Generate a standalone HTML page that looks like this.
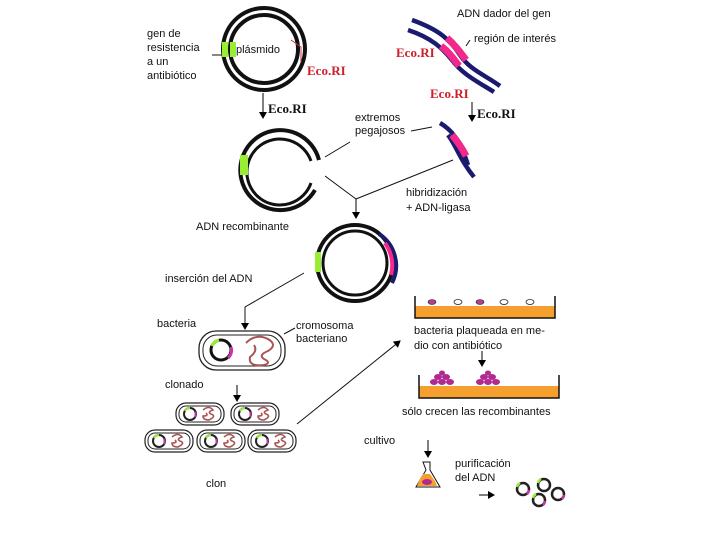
<!DOCTYPE html>
<html><head><meta charset="utf-8"><style>
html,body{margin:0;padding:0;background:#fff;}
svg{display:block;}
text{font-family:"Liberation Sans",sans-serif;font-size:11px;fill:#111;}
.r{font-family:"Liberation Serif",serif;font-weight:bold;font-size:13px;fill:#cc1f2a;}
.k{font-family:"Liberation Serif",serif;font-weight:bold;font-size:13px;fill:#111;}
</style></head><body>
<svg width="720" height="540" viewBox="0 0 720 540" xmlns="http://www.w3.org/2000/svg">
<defs>
<marker id="a" markerWidth="8" markerHeight="8" refX="6" refY="4" orient="auto"><path d="M0,0 L7,4 L0,8 z" fill="#000"/></marker>
<g id="cell">
<rect x="-24" y="-11" width="48" height="22" rx="10" fill="#fff" stroke="#222" stroke-width="1.2"/>
<rect x="-21" y="-8" width="42" height="16" rx="7" fill="none" stroke="#222" stroke-width="1"/>
<circle cx="-10" cy="0" r="6" fill="none" stroke="#222" stroke-width="2"/>
<path d="M-15,-3 A6,6 0 0 1 -10,-6" stroke="#9e3" stroke-width="2" fill="none"/>
<path d="M-5,-2 A6,6 0 0 1 -5,3" stroke="#c3a" stroke-width="2" fill="none"/>
<path d="M3,-4 q6,-5 10,0 q-6,2 -2,4 q6,2 -2,6 q-6,0 -6,-4 q6,0 3,-3" fill="none" stroke="#a55" stroke-width="1.6"/>
</g>
</defs>

<!-- plasmid -->
<circle cx="264" cy="49" r="41" fill="none" stroke="#111" stroke-width="4"/>
<circle cx="264" cy="49" r="34" fill="none" stroke="#111" stroke-width="4"/>
<rect x="222" y="42" width="6" height="15" fill="#9e3"/>
<rect x="230" y="42" width="6" height="15" fill="#9e3"/>
<path d="M291,40 L301,47 L301,62" fill="none" stroke="#c33" stroke-width="1"/>
<text x="147" y="37">gen de</text><text x="147" y="51">resistencia</text><text x="147" y="65">a un</text><text x="147" y="79">antibiótico</text>
<line x1="212" y1="55" x2="222" y2="55" stroke="#111"/>
<text x="236" y="53">plásmido</text>
<text x="307" y="75" class="r">Eco.RI</text>

<!-- donor DNA -->
<path d="M412,20 C440,30 450,40 460,55 C470,70 485,75 500,86" fill="none" stroke="#1a1a6e" stroke-width="4.5"/>
<path d="M408,30 C432,38 442,48 452,60 C462,74 478,82 494,92" fill="none" stroke="#1a1a6e" stroke-width="4.5"/>
<path d="M447,38 C455,45 460,52 466,60" stroke="#f2288c" stroke-width="7" fill="none"/>
<path d="M441,46 C449,52 453,58 459,66" stroke="#f2288c" stroke-width="7" fill="none"/>
<text x="457" y="17">ADN dador del gen</text>
<text x="474" y="42">región de interés</text>
<line x1="470" y1="40" x2="466" y2="46" stroke="#111"/>
<text x="396" y="57" class="r">Eco.RI</text>
<text x="430" y="98" class="r">Eco.RI</text>

<!-- arrows EcoRI -->
<line x1="263" y1="93" x2="263" y2="118" stroke="#000" marker-end="url(#a)"/>
<text x="268" y="113" class="k">Eco.RI</text>
<line x1="472" y1="102" x2="472" y2="121" stroke="#000" marker-end="url(#a)"/>
<text x="477" y="118" class="k">Eco.RI</text>

<!-- open plasmid -->
<path d="M319,160 A40,40 0 1 0 315,190" fill="none" stroke="#111" stroke-width="4"/>
<path d="M311,161 A33,33 0 1 0 311,183" fill="none" stroke="#111" stroke-width="3"/>
<rect x="240" y="155" width="8" height="20" fill="#9e3"/>
<text x="355" y="121">extremos</text><text x="355" y="134">pegajosos</text>
<line x1="325" y1="157" x2="350" y2="142" stroke="#111"/>
<line x1="411" y1="131" x2="432" y2="127" stroke="#111"/>
<!-- fragment -->
<path d="M440,123 C452,130 460,140 468,165" fill="none" stroke="#1a1a6e" stroke-width="4.5"/>
<path d="M448,135 C456,145 460,160 474,177" fill="none" stroke="#1a1a6e" stroke-width="4.5"/>
<path d="M452,135 C458,142 462,148 466,156" stroke="#f2288c" stroke-width="7" fill="none"/>
<line x1="325" y1="176" x2="356" y2="199" stroke="#111"/>
<line x1="453" y1="160" x2="356" y2="199" stroke="#111"/>
<line x1="356" y1="199" x2="356" y2="218" stroke="#000" marker-end="url(#a)"/>
<text x="406" y="196">hibridización</text><text x="406" y="211">+ ADN-ligasa</text>

<!-- recombinant -->
<text x="196" y="230">ADN recombinante</text>
<circle cx="355" cy="263" r="38" fill="none" stroke="#111" stroke-width="4"/>
<circle cx="355" cy="263" r="32" fill="none" stroke="#111" stroke-width="3"/>
<rect x="315" y="252" width="6" height="20" fill="#9e3"/>
<path d="M379,234 A38,38 0 0 1 392,283" stroke="#1a1a6e" stroke-width="4" fill="none"/>
<path d="M385,243 A38,38 0 0 1 391,275" stroke="#f2288c" stroke-width="4" fill="none"/>
<text x="165" y="282">inserción del ADN</text>
<polyline points="304,273 245,307 245,329" fill="none" stroke="#111" marker-end="url(#a)"/>

<!-- bacterium -->
<text x="157" y="327">bacteria</text>
<rect x="199" y="331" width="86" height="39" rx="17" fill="#fff" stroke="#222" stroke-width="1.3"/>
<rect x="203" y="335" width="78" height="31" rx="14" fill="none" stroke="#222" stroke-width="1"/>
<circle cx="221" cy="350" r="10" fill="none" stroke="#111" stroke-width="3"/>
<path d="M212,346 A10,10 0 0 1 219,340" stroke="#9e3" stroke-width="3" fill="none"/>
<path d="M231,347 A10,10 0 0 1 228,358" stroke="#c3a" stroke-width="3" fill="none"/>
<path d="M246,343 q10,-10 22,-4 q10,6 0,12 q-10,4 -4,8 q8,4 0,6 q-16,2 -14,-8 q8,-6 4,-12" fill="none" stroke="#a55" stroke-width="2"/>
<text x="296" y="329">cromosoma</text><text x="296" y="342">bacteriano</text>
<line x1="284" y1="334" x2="295" y2="328" stroke="#111"/>

<text x="165" y="388">clonado</text>
<line x1="237" y1="385" x2="237" y2="401" stroke="#000" marker-end="url(#a)"/>
<use href="#cell" x="200" y="414"/>
<use href="#cell" x="255" y="414"/>
<use href="#cell" x="169" y="441"/>
<use href="#cell" x="221" y="441"/>
<use href="#cell" x="272" y="441"/>
<text x="206" y="487">clon</text>
<line x1="297" y1="424" x2="400" y2="341" stroke="#111" marker-end="url(#a)"/>

<!-- dishes -->
<rect x="415" y="306" width="140" height="12" fill="#f5a02e"/>
<polyline points="415,296 415,318 555,318 555,296" fill="none" stroke="#111" stroke-width="1.5"/>
<ellipse cx="432" cy="302" rx="4" ry="2.5" fill="#b04090" stroke="#222" stroke-width=".6"/>
<ellipse cx="458" cy="302" rx="4" ry="2.5" fill="#fff" stroke="#222" stroke-width=".8"/>
<ellipse cx="480" cy="302" rx="4" ry="2.5" fill="#b04090" stroke="#222" stroke-width=".6"/>
<ellipse cx="504" cy="302" rx="4" ry="2.5" fill="#fff" stroke="#222" stroke-width=".8"/>
<ellipse cx="530" cy="302" rx="4" ry="2.5" fill="#fff" stroke="#222" stroke-width=".8"/>
<text x="414" y="334">bacteria plaqueada en me-</text><text x="414" y="349">dio con antibiótico</text>
<line x1="482" y1="351" x2="482" y2="366" stroke="#000" marker-end="url(#a)"/>
<rect x="419" y="386" width="140" height="12" fill="#f5a02e"/>
<polyline points="419,375 419,398 559,398 559,375" fill="none" stroke="#111" stroke-width="1.5"/>
<g fill="#b02a90">
<ellipse cx="434" cy="382" rx="4" ry="3"/><ellipse cx="442" cy="382" rx="4" ry="3"/><ellipse cx="450" cy="382" rx="4" ry="3"/>
<ellipse cx="438" cy="377" rx="4" ry="3"/><ellipse cx="446" cy="377" rx="4" ry="3"/><ellipse cx="442" cy="373" rx="3" ry="2.5"/>
<ellipse cx="480" cy="382" rx="4" ry="3"/><ellipse cx="488" cy="382" rx="4" ry="3"/><ellipse cx="496" cy="382" rx="4" ry="3"/>
<ellipse cx="484" cy="377" rx="4" ry="3"/><ellipse cx="492" cy="377" rx="4" ry="3"/><ellipse cx="488" cy="373" rx="3" ry="2.5"/>
</g>
<text x="402" y="415">sólo crecen las recombinantes</text>

<text x="364" y="444">cultivo</text>
<line x1="428" y1="440" x2="428" y2="457" stroke="#000" marker-end="url(#a)"/>
<path d="M423,462 h7 v8 l10,17 h-24 l10,-17 z" fill="#fff" stroke="#111"/>
<path d="M419,481 l4,-7 h7 l5,7 l2,5 h-20 z" fill="#f5a02e"/>
<ellipse cx="427" cy="482" rx="5" ry="3" fill="#b02a90"/>
<text x="455" y="467">purificación</text><text x="455" y="481">del ADN</text>
<line x1="479" y1="495" x2="494" y2="495" stroke="#000" marker-end="url(#a)"/>
<g fill="none" stroke-width="2.5">
<circle cx="523" cy="489" r="6" stroke="#222"/><circle cx="544" cy="485" r="6" stroke="#222"/>
<circle cx="558" cy="494" r="6" stroke="#222"/><circle cx="539" cy="500" r="6" stroke="#222"/>
</g>
<g fill="none" stroke-width="2.5">
<path d="M517,487 a6,6 0 0 1 3,-4" stroke="#9e3"/><path d="M529,490 a6,6 0 0 1 -2,4" stroke="#c3a"/>
<path d="M538,483 a6,6 0 0 1 3,-4" stroke="#9e3"/><path d="M564,495 a6,6 0 0 1 -2,4" stroke="#c3a"/>
<path d="M533,498 a6,6 0 0 1 3,-4" stroke="#9e3"/><path d="M545,501 a6,6 0 0 1 -2,4" stroke="#c3a"/>
</g>
</svg>
</body></html>
